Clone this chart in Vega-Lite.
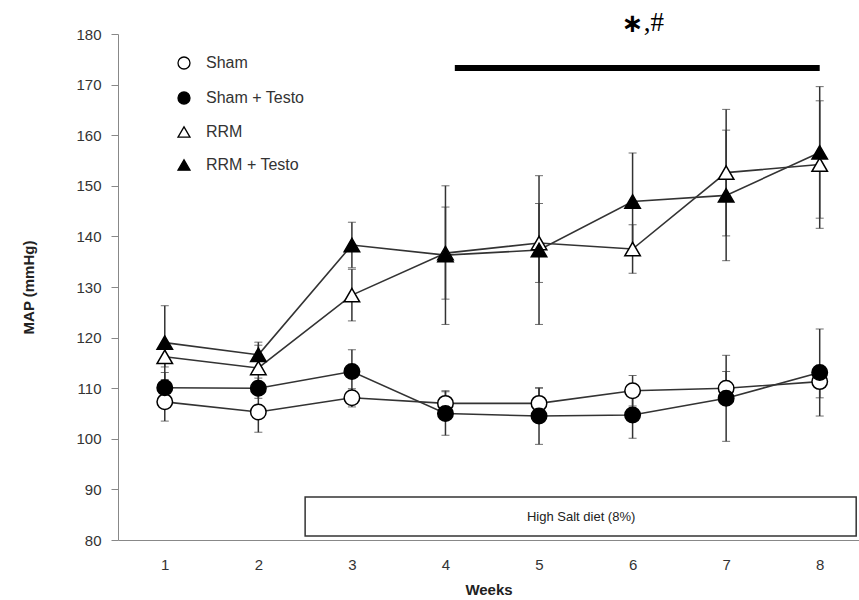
{
  "$schema": "https://vega.github.io/schema/vega-lite/v6.json",
  "autosize": {"type": "none"},
  "padding": {"left": 118, "top": 34, "right": 0, "bottom": 60},
  "width": 741,
  "height": 506,
  "background": "white",
  "config": {
    "view": {"stroke": null},
    "font": "Liberation Sans",
    "axis": {
      "domainColor": "#888888",
      "tickColor": "#888888",
      "labelColor": "#333333",
      "titleColor": "#222222",
      "labelFont": "Liberation Sans",
      "titleFont": "Liberation Sans",
      "labelFontSize": 15,
      "titleFontSize": 15,
      "titleFontWeight": "bold",
      "grid": false
    }
  },
  "datasets": {
    "bp": [
      {"week": 1, "series": "Sham", "map": 107.3, "sem": 3.8},
      {"week": 2, "series": "Sham", "map": 105.3, "sem": 4.0},
      {"week": 3, "series": "Sham", "map": 108.1, "sem": 1.8},
      {"week": 4, "series": "Sham", "map": 107.0, "sem": 2.5},
      {"week": 5, "series": "Sham", "map": 107.0, "sem": 3.0},
      {"week": 6, "series": "Sham", "map": 109.5, "sem": 3.0},
      {"week": 7, "series": "Sham", "map": 110.0, "sem": 3.3},
      {"week": 8, "series": "Sham", "map": 111.3, "sem": 3.2},
      {"week": 1, "series": "Sham + Testo", "map": 110.1, "sem": 3.0},
      {"week": 2, "series": "Sham + Testo", "map": 110.0, "sem": 2.0},
      {"week": 3, "series": "Sham + Testo", "map": 113.3, "sem": 4.3},
      {"week": 4, "series": "Sham + Testo", "map": 105.0, "sem": 4.3},
      {"week": 5, "series": "Sham + Testo", "map": 104.5, "sem": 5.6},
      {"week": 6, "series": "Sham + Testo", "map": 104.7, "sem": 4.6},
      {"week": 7, "series": "Sham + Testo", "map": 108.0, "sem": 8.5},
      {"week": 8, "series": "Sham + Testo", "map": 113.1, "sem": 8.6},
      {"week": 1, "series": "RRM", "map": 116.2, "sem": 2.0},
      {"week": 2, "series": "RRM", "map": 114.0, "sem": 4.5},
      {"week": 3, "series": "RRM", "map": 128.4, "sem": 5.1},
      {"week": 4, "series": "RRM", "map": 136.7, "sem": 9.1},
      {"week": 5, "series": "RRM", "map": 138.7, "sem": 7.8},
      {"week": 6, "series": "RRM", "map": 137.5, "sem": 4.8},
      {"week": 7, "series": "RRM", "map": 152.6, "sem": 12.5},
      {"week": 8, "series": "RRM", "map": 154.2, "sem": 12.6},
      {"week": 1, "series": "RRM + Testo", "map": 119.0, "sem": 7.3},
      {"week": 2, "series": "RRM + Testo", "map": 116.6, "sem": 2.5},
      {"week": 3, "series": "RRM + Testo", "map": 138.3, "sem": 4.5},
      {"week": 4, "series": "RRM + Testo", "map": 136.3, "sem": 13.7},
      {"week": 5, "series": "RRM + Testo", "map": 137.3, "sem": 14.7},
      {"week": 6, "series": "RRM + Testo", "map": 146.9, "sem": 9.6},
      {"week": 7, "series": "RRM + Testo", "map": 148.1, "sem": 12.9},
      {"week": 8, "series": "RRM + Testo", "map": 156.6, "sem": 13.0}
    ],
    "salt": [{"x": 2.5, "x2": 8.39, "y": 80.8, "y2": 88.5, "xm": 5.45, "ym": 84.6, "label": "High  Salt diet (8%)"}],
    "sig": [{"x": 4.1, "x2": 8.0, "y": 173.3}],
    "star": [{"x": 6.0, "y": 181.9, "label": "∗"}],
    "hash": [{"x": 6.12, "y": 180.6, "label": ",#"}]
  },
  "layer": [
    {
      "data": {"name": "salt"},
      "mark": {"type": "rect", "fill": "white", "stroke": "#333333", "strokeWidth": 1.5},
      "encoding": {
        "x": {"field": "x", "type": "quantitative", "scale": {"domain": [0.5, 8.42], "nice": false, "zero": false},
          "axis": {
            "title": "Weeks",
            "values": [1, 1.5, 2, 2.5, 3, 3.5, 4, 4.5, 5, 5.5, 6, 6.5, 7, 7.5, 8],
            "format": "d",
            "labelExpr": "datum.value % 1 === 0 ? datum.label : ''",
            "tickOpacity": {"condition": {"test": "datum.value % 1 === 0", "value": 0}, "value": 1},
            "tickSize": 7,
            "labelPadding": 10,
            "titlePadding": 10,
            "labelFlush": false,
            "labelOverlap": false
          }},
        "x2": {"field": "x2"},
        "y": {"field": "y", "type": "quantitative", "title": "MAP (mmHg)", "scale": {"domain": [80, 180], "nice": false, "zero": false},
          "axis": {
            "title": "MAP (mmHg)",
            "values": [80, 90, 100, 110, 120, 130, 140, 150, 160, 170, 180],
            "tickSize": 7,
            "labelPadding": 10,
            "titlePadding": 39
          }},
        "y2": {"field": "y2"}
      }
    },
    {
      "data": {"name": "salt"},
      "mark": {"type": "text", "fontSize": 13, "color": "#222222", "font": "Liberation Sans"},
      "encoding": {
        "x": {"field": "xm", "type": "quantitative", "title": "Weeks"},
        "y": {"field": "ym", "type": "quantitative", "title": "MAP (mmHg)"},
        "text": {"field": "label"}
      }
    },
    {
      "data": {"name": "sig"},
      "mark": {"type": "rule", "strokeWidth": 6, "color": "black"},
      "encoding": {
        "x": {"field": "x", "type": "quantitative", "title": "Weeks"},
        "x2": {"field": "x2"},
        "y": {"field": "y", "type": "quantitative", "title": "MAP (mmHg)"}
      }
    },
    {
      "data": {"name": "star"},
      "mark": {"type": "text", "fontSize": 26, "fontWeight": "bold", "font": "DejaVu Sans", "color": "black", "baseline": "middle"},
      "encoding": {
        "x": {"field": "x", "type": "quantitative", "title": "Weeks"},
        "y": {"field": "y", "type": "quantitative", "title": "MAP (mmHg)"},
        "text": {"field": "label"}
      }
    },
    {
      "data": {"name": "hash"},
      "mark": {"type": "text", "fontSize": 27, "font": "Liberation Serif", "color": "black", "align": "left", "baseline": "alphabetic"},
      "encoding": {
        "x": {"field": "x", "type": "quantitative", "title": "Weeks"},
        "y": {"field": "y", "type": "quantitative", "title": "MAP (mmHg)"},
        "text": {"field": "label"}
      }
    },
    {
      "data": {"name": "bp"},
      "mark": {"type": "line", "color": "#333333", "strokeWidth": 1.6},
      "encoding": {
        "x": {"field": "week", "type": "quantitative", "title": "Weeks"},
        "y": {"field": "map", "type": "quantitative", "title": "MAP (mmHg)"},
        "detail": {"field": "series"}
      }
    },
    {
      "data": {"name": "bp"},
      "mark": {"type": "errorbar", "ticks": {"size": 8, "color": "#333333", "strokeWidth": 1.5}, "rule": {"color": "#333333", "strokeWidth": 1.5}},
      "encoding": {
        "x": {"field": "week", "type": "quantitative", "title": "Weeks"},
        "y": {"field": "map", "type": "quantitative", "title": "MAP (mmHg)"},
        "yError": {"field": "sem"}
      }
    },
    {
      "data": {"name": "bp"},
      "mark": {"type": "point", "stroke": "black", "strokeWidth": 1.5, "opacity": 1, "fillOpacity": 1, "size": 240},
      "encoding": {
        "x": {"field": "week", "type": "quantitative", "title": "Weeks"},
        "y": {"field": "map", "type": "quantitative", "title": "MAP (mmHg)"},
        "fill": {"field": "series", "type": "nominal",
          "scale": {"domain": ["Sham", "Sham + Testo", "RRM", "RRM + Testo"], "range": ["white", "black", "white", "black"]},
          "legend": {
            "title": null,
            "orient": "none",
            "legendX": 58,
            "legendY": 21,
            "padding": 0,
            "labelFontSize": 16,
            "labelFont": "Liberation Sans",
            "labelColor": "#333333",
            "symbolSize": 144,
            "symbolStrokeWidth": 1.3,
            "symbolStrokeColor": "black",
            "rowPadding": 17,
            "labelOffset": 14
          }},
        "shape": {"field": "series", "type": "nominal",
          "scale": {"domain": ["Sham", "Sham + Testo", "RRM", "RRM + Testo"], "range": ["circle", "circle", "triangle-up", "triangle-up"]}}
      }
    }
  ]
}
